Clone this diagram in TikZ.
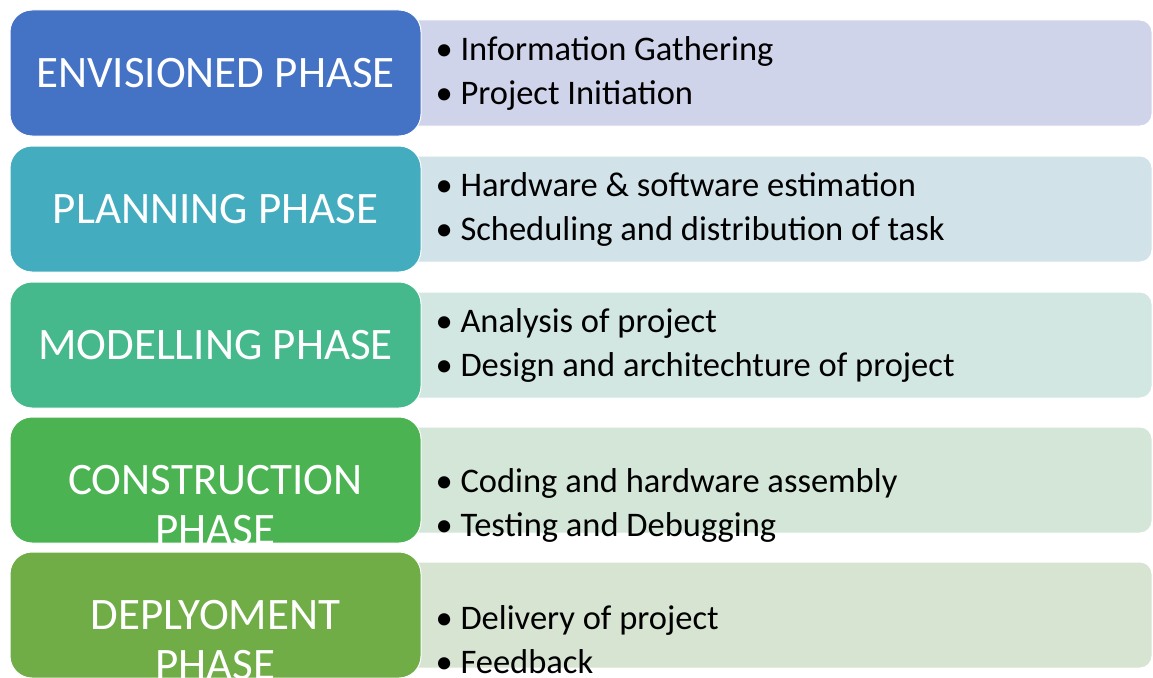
\documentclass[tikz,border=0pt]{standalone}
\usepackage{fontspec}
\setmainfont{Carlito}
\usetikzlibrary{positioning}

\definecolor{envblue}{HTML}{4472C4}
\definecolor{planteal}{HTML}{43ACBF}
\definecolor{modgreen}{HTML}{45B98C}
\definecolor{congreen}{HTML}{4BB352}
\definecolor{depgreen}{HTML}{70AD47}
\definecolor{envpale}{HTML}{D0D4EA}
\definecolor{planpale}{HTML}{D1E2E8}
\definecolor{modpale}{HTML}{D2E7E2}
\definecolor{conpale}{HTML}{D3E6D7}
\definecolor{deppale}{HTML}{D7E4D2}

\tikzset{
    phase/.style={rectangle, rounded corners=22pt, draw=white, line width=1pt,
        minimum width=411pt, minimum height=126pt, inner sep=0pt, outer sep=0pt},
    panel/.style={rectangle, rounded corners=12pt, draw=white, line width=1pt,
        minimum width=752pt, minimum height=106pt, inner sep=0pt, outer sep=0pt},
    phasetext/.style={text=white, align=center, font=\fontsize{45}{50}\selectfont},
    tasktext/.style={anchor=west, align=left, font=\fontsize{34.5}{44}\selectfont}
}

\begin{document}
\begin{tikzpicture}[x=1pt, y=-1pt]
    \clip (0,0) rectangle (1153,677);

    \node[panel, fill=envpale] (envpanel) at (776,73) {};
    \node[panel, fill=planpale, below=30pt of envpanel] (planpanel) {};
    \node[panel, fill=modpale, below=30pt of planpanel] (modpanel) {};
    \node[panel, fill=conpale, below=29pt of modpanel] (conpanel) {};
    \node[panel, fill=deppale, below=29pt of conpanel] (deppanel) {};

    \node[phase, fill=envblue, left=-21pt of envpanel] (envision) {};
    \node[phasetext] (envisiontext) at (envision) {ENVISIONED PHASE};
    \node[phase, fill=planteal, left=-21pt of planpanel] (planning) {};
    \node[phasetext] (planningtext) at (planning) {PLANNING PHASE};
    \node[phase, fill=modgreen, left=-21pt of modpanel] (modelling) {};
    \node[phasetext] (modellingtext) at (modelling) {MODELLING PHASE};
    \node[phase, fill=congreen, left=-21pt of conpanel] (construct) {};
    \node[phasetext] (constructtext) at ([yshift=-25pt]construct.center) {CONSTRUCTION\\PHASE};
    \node[phase, fill=depgreen, left=-21pt of deppanel] (deploy) {};
    \node[phasetext] (deploytext) at ([yshift=-25pt]deploy.center) {DEPLYOMENT\\PHASE};

    \node[tasktext] (envtasks) at ([xshift=32pt]envpanel.west)
        {\textbullet\ Information Gathering\\\textbullet\ Project Initiation};
    \node[tasktext] (plantasks) at ([xshift=32pt]planpanel.west)
        {\textbullet\ Hardware \& software estimation\\\textbullet\ Scheduling and distribution of task};
    \node[tasktext] (modtasks) at ([xshift=32pt]modpanel.west)
        {\textbullet\ Analysis of project\\\textbullet\ Design and architechture of project};
    \node[tasktext] (contasks) at ([xshift=32pt, yshift=-25pt]conpanel.west)
        {\textbullet\ Coding and hardware assembly\\\textbullet\ Testing and Debugging};
    \node[tasktext] (deptasks) at ([xshift=32pt, yshift=-25pt]deppanel.west)
        {\textbullet\ Delivery of project\\\textbullet\ Feedback};
\end{tikzpicture}
\end{document}
